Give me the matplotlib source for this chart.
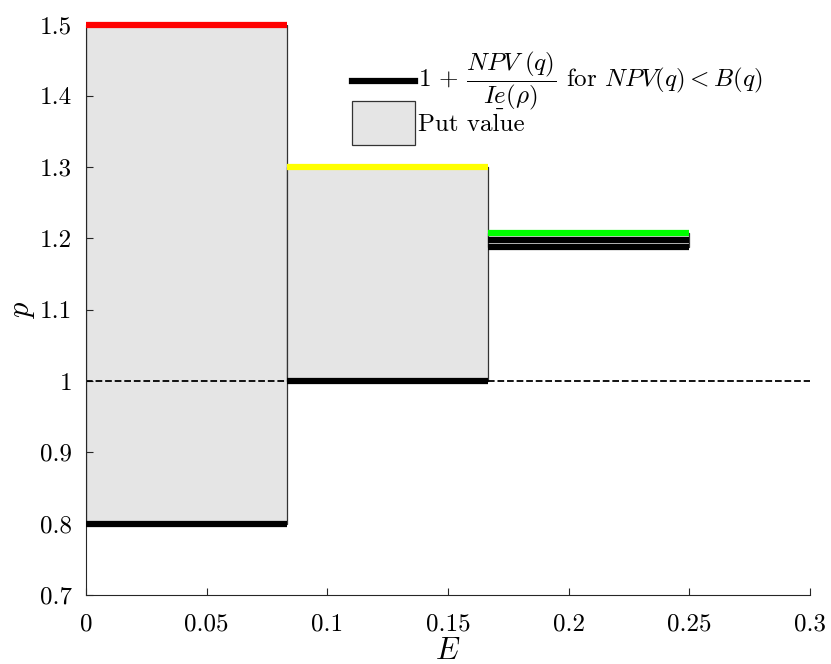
import matplotlib
matplotlib.use("Agg")
import matplotlib.pyplot as plt
from matplotlib.lines import Line2D
from matplotlib.patches import Patch
from matplotlib.mathtext import MathTextParser

# interval edges on the E axis
edges = [0.0, 1 / 12, 2 / 12, 3 / 12]
# put value shaded region, one per interval
put_low = [0.8, 1.0, 1.188]
put_high = [1.5, 1.3, 1.208]
top_colors = ["#ff0000", "#ffff00", "#00ff00"]
# black 1 + NPV/(I e) lines: interval index and level
npv_seg = [0, 1, 2, 2]
npv_val = [0.8, 1.0, 1.198, 1.188]

x_ticks = [0, 0.05, 0.1, 0.15, 0.2, 0.25, 0.3]
y_ticks = [0.7, 0.8, 0.9, 1.0, 1.1, 1.2, 1.3, 1.4, 1.5]
x_tick_labels = ["0", "0.05", "0.1", "0.15", "0.2", "0.25", "0.3"]
y_tick_labels = ["0.7", "0.8", "0.9", "1", "1.1", "1.2", "1.3", "1.4", "1.5"]

plt.rcParams["font.family"] = "serif"
plt.rcParams["font.serif"] = ["cmr10", "DejaVu Serif"]
plt.rcParams["mathtext.fontset"] = "cm"
plt.rcParams["axes.unicode_minus"] = False


def pick_label():
    # mathtext may lack \underline, so try a few ways of marking the e
    tries = [
        r"$1\,+\,\dfrac{NPV\ (q)}{I\underline{e}(\rho)}$ for $NPV(q)<B(q)$",
        r"$1\,+\,\dfrac{NPV\ (q)}{I\underset{\_}{e}(\rho)}$ for $NPV(q)<B(q)$",
        r"$1\,+\,\dfrac{NPV\ (q)}{I\,e(\rho)}$ for $NPV(q)<B(q)$",
    ]
    parser = MathTextParser("agg")
    for t in tries:
        try:
            parser.parse(t.split(" for ")[0])
            return t
        except Exception:
            continue
    return tries[-1]


fig = plt.figure(figsize=(8.31, 6.64), dpi=100)
ax = fig.add_axes([0.1035, 0.104, 0.871, 0.859])

for i in range(len(put_low)):
    ax.fill_between([edges[i], edges[i + 1]], put_low[i], put_high[i],
                    facecolor="#e5e5e5", edgecolor="#333333", linewidth=0.9, zorder=1)

ax.plot([0, 0.3], [1, 1], "k--", linewidth=1.3, zorder=2)

for i, c in enumerate(top_colors):
    ax.plot([edges[i], edges[i + 1]], [put_high[i], put_high[i]], color=c,
            linewidth=4.5, solid_capstyle="butt", zorder=3, clip_on=False)
for s, v in zip(npv_seg, npv_val):
    ax.plot([edges[s], edges[s + 1]], [v, v], color="black",
            linewidth=4.5, solid_capstyle="butt", zorder=3, clip_on=False)

ax.set_xlim(0, 0.3)
ax.set_ylim(0.7, 1.5)
ax.set_xticks(x_ticks)
ax.set_xticklabels(x_tick_labels)
ax.set_yticks(y_ticks)
ax.set_yticklabels(y_tick_labels)
ax.tick_params(direction="in", length=5, labelsize=18, width=0.8, colors="#262626",
               labelcolor="black")
ax.tick_params(axis="x", pad=13)
ax.tick_params(axis="y", pad=10)
ax.spines["top"].set_visible(False)
ax.spines["right"].set_visible(False)
for sp in ("left", "bottom"):
    ax.spines[sp].set_color("#262626")
    ax.spines[sp].set_linewidth(0.8)

ax.set_xlabel("$E$", fontsize=22, labelpad=2)
ax.set_ylabel("$p$", fontsize=22, labelpad=2)

handles = [
    Line2D([], [], color="black", linewidth=4.5),
    Patch(facecolor="#e5e5e5", edgecolor="#333333", linewidth=0.9),
]
# first label is put in by hand so the fraction sits centred on its line
ax.legend(handles, [" ", "Put value"], loc="upper left",
          bbox_to_anchor=(0.367, 0.927), frameon=False, fontsize=18,
          handlelength=2.55, handleheight=2.3, handletextpad=0.1,
          labelspacing=-0.34, borderaxespad=0, borderpad=0)
ax.text(0.4586, 0.902, pick_label(), transform=ax.transAxes, fontsize=18,
        ha="left", va="center")

fig.savefig("out.png", dpi=100)
